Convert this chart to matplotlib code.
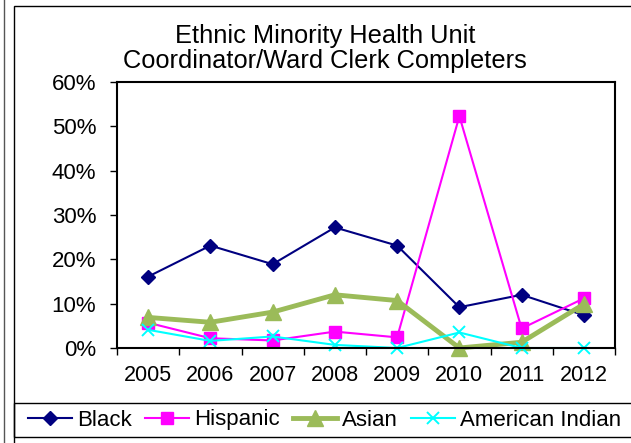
import matplotlib.pyplot as plt
from matplotlib.patches import Rectangle
import numpy as np

plt.rcParams['font.family'] = ['Liberation Sans', 'DejaVu Sans']

years = ['2005', '2006', '2007', '2008', '2009', '2010', '2011', '2012']
black = [16.1, 23.1, 18.9, 27.2, 23.1, 9.2, 12.0, 7.4]
hispanic = [5.7, 2.2, 1.7, 3.7, 2.4, 52.3, 4.4, 11.2]
asian = [6.9, 5.8, 8.1, 12.0, 10.7, 0.0, 1.3, 9.9]
american_indian = [4.1, 1.6, 2.6, 0.7, 0.0, 3.5, 0.0, 0.0]

W, H = 631, 443
fig = plt.figure(figsize=(W / 100, H / 100), dpi=100)
ax = fig.add_axes([117 / W, 1 - 348 / H, (615 - 117) / W, (348 - 82) / H])

x = np.arange(len(years))
ax.plot(x, black, color='#000080', lw=1.5, marker='D', ms=7, label='Black')
ax.plot(x, hispanic, color='#FF00FF', lw=1.5, marker='s', ms=9, label='Hispanic')
ax.plot(x, asian, color='#9BBB59', lw=3.5, marker='^', ms=11, label='Asian')
ax.plot(x, american_indian, color='#00FFFF', lw=1.5, marker='x', ms=8, mew=1.4,
        label='American Indian')

ax.set_xlim(-0.5, len(years) - 0.5)
ax.set_ylim(0, 60)
ax.set_yticks(range(0, 61, 10))
ax.set_yticklabels([f'{v}%' for v in range(0, 61, 10)], fontsize=16)
ax.set_xticks(x)
ax.set_xticklabels(years, fontsize=15.5)
ax.set_xticks(np.arange(-0.5, len(years), 1), minor=True)
ax.tick_params(axis='x', which='major', length=0, pad=12)
ax.tick_params(axis='x', which='minor', length=5, direction='out', width=1)
ax.tick_params(axis='y', length=5, direction='out', width=1, pad=10)
for s in ax.spines.values():
    s.set_linewidth(1.5)
for ln in ax.lines:
    ln.set_clip_on(False)

fig.text(325 / W, 1 - 36 / H, 'Ethnic Minority Health Unit', ha='center', va='center', fontsize=18.3)
fig.text(325 / W, 1 - 61 / H, 'Coordinator/Ward Clerk Completers', ha='center', va='center', fontsize=18.3)

# outer frames
fig.add_artist(plt.Line2D([3.5 / W, 3.5 / W], [0, 1], transform=fig.transFigure,
                          color='#555555', lw=1))
fig.patches.append(Rectangle((14 / W, -0.1), 1.0, 1 - 6 / H + 0.1, transform=fig.transFigure,
                             fill=False, edgecolor='black', lw=1))
fig.patches.append(Rectangle((14 / W, 1 - 437 / H), 1.0, 34 / H, transform=fig.transFigure,
                             fill=False, edgecolor='black', lw=1))

leg = fig.legend(loc='center left', bbox_to_anchor=(28 / W, 1 - 420 / H), ncol=4,
                 fontsize=16, frameon=False, handlelength=2.0, handletextpad=0.2,
                 columnspacing=0.6, borderpad=0, borderaxespad=0)

fig.savefig('out.png', dpi=100)
